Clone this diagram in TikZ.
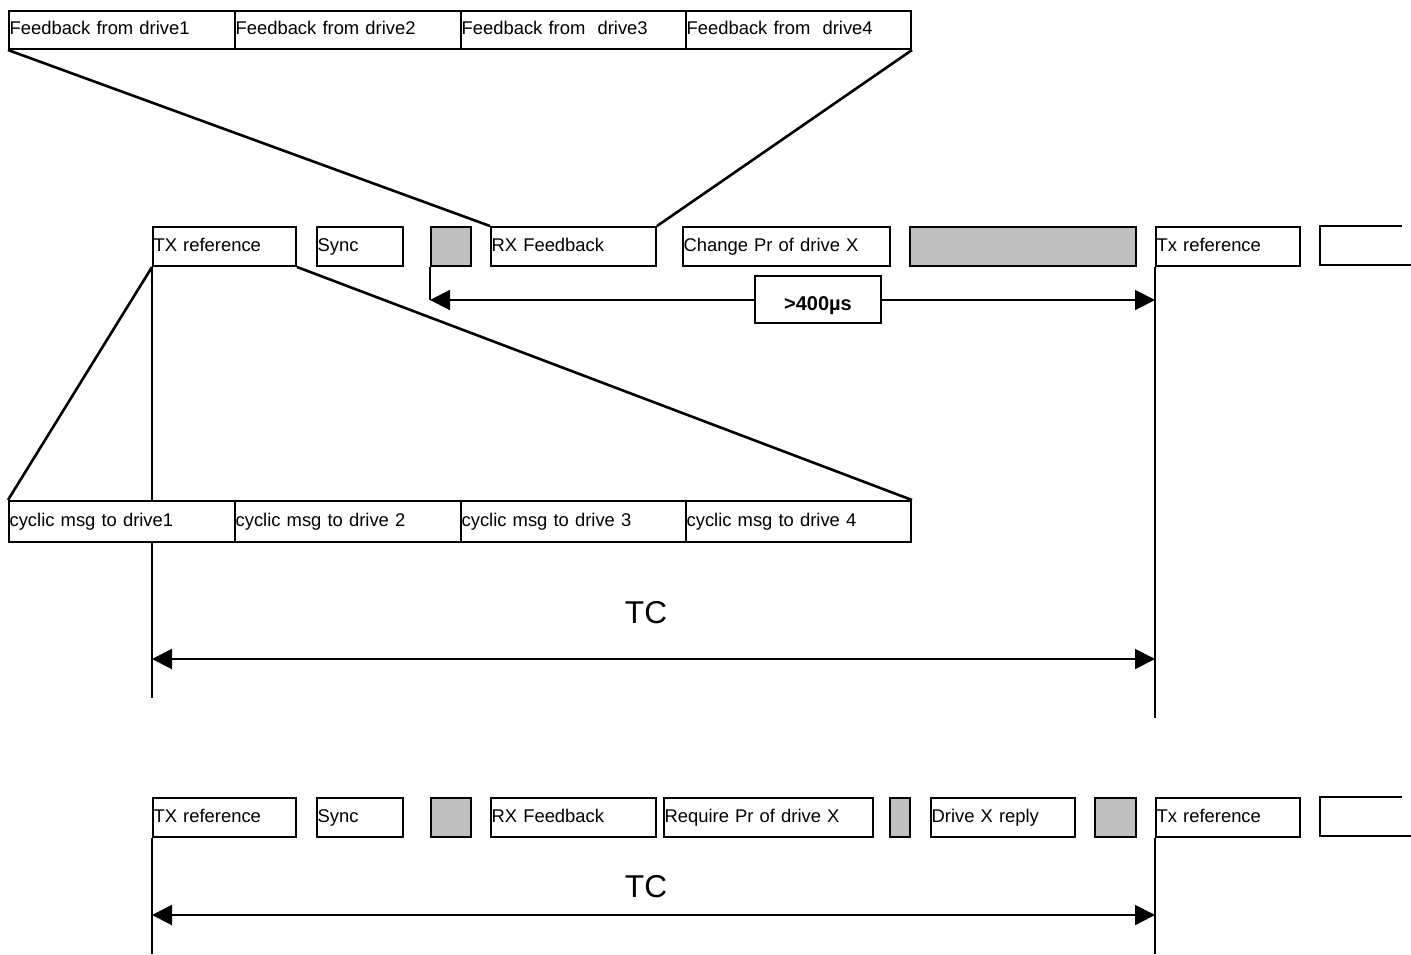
\documentclass[tikz,border=0pt]{standalone}
\usepackage{fontspec}
\setmainfont{Liberation Sans}
\usetikzlibrary{arrows.meta}
\definecolor{boxgrey}{HTML}{C0C0C0}
\newcommand\bx[6]{%
  \pgfmathsetmacro\bw{(#4-#2)*0.5}%
  \pgfmathsetmacro\bh{(#5-#3)*0.5}%
  \pgfmathsetmacro\tw{(#4-#2)*0.5-0.6}%
  \node[box, minimum width=\bw pt, minimum height=\bh pt, text width=\tw pt] (#1) at (#2,#3) {#6};}
\newcommand\gb[5]{%
  \pgfmathsetmacro\bw{(#4-#2)*0.5}%
  \pgfmathsetmacro\bh{(#5-#3)*0.5}%
  \node[gbox, minimum width=\bw pt, minimum height=\bh pt] (#1) at (#2,#3) {};}
\begin{document}
\begin{tikzpicture}[x=0.5pt,y=-0.5pt,
  box/.style={draw, line width=1pt, fill=white, anchor=north west, inner xsep=0.3pt, inner ysep=0pt, align=left, text height=6.5pt, text depth=2pt, font=\fontsize{9.2}{11}\selectfont},
  gbox/.style={draw, line width=1pt, fill=boxgrey, anchor=north west, inner sep=0pt},
  slant/.style={line width=1.3pt},
  vline/.style={line width=1pt},
  arr/.style={line width=1pt, {Triangle[length=10pt,width=10pt]}-{Triangle[length=10pt,width=10pt]}},
  tc/.style={font=\fontsize{15.8}{18}\selectfont, inner sep=0pt},
  lbl/.style={draw, line width=1pt, fill=white, minimum width=63pt, minimum height=23.5pt, inner sep=0pt, text height=10.5pt, text depth=0pt, font=\bfseries\fontsize{10}{12}\selectfont}
]
\useasboundingbox (0,0) rectangle (1411,954);

% top row
\bx{fb1}{8}{10}{234}{48}{Feedback from drive1}
\bx{fb2}{234}{10}{460}{48}{Feedback from drive2}
\bx{fb3}{460}{10}{685}{48}{Feedback from~ drive3}
\bx{fb4}{685}{10}{910}{48}{Feedback from~ drive4}

% middle row
\bx{txr}{152}{226}{295}{265}{TX reference}
\bx{sync}{316}{226}{402}{265}{Sync}
\gb{g1}{430}{226}{470}{265}
\bx{rxf}{490}{226}{655}{265}{RX Feedback}
\bx{chg}{682}{226}{889}{265}{Change Pr of drive X}
\gb{g2}{909}{226}{1135}{265}
\bx{txr2}{1155}{226}{1299}{265}{Tx reference}
\draw[line width=1pt] (1402,226) -- (1320,226) -- (1320,265) -- (1411,265);

\draw[slant] (fb1.south west) -- (rxf.north west);
\draw[slant] (fb4.south east) -- (rxf.north east);

% vertical time lines
\coordinate (v1end) at (152,698);
\coordinate (v2end) at (1155,718);
\draw[vline] (txr.south west) -- (v1end);
\draw[vline] (txr2.south west) -- (v2end);

% >400us arrow
\coordinate (a4l) at (430,300);
\coordinate (a4r) at (1155,300);
\draw[vline] (g1.south west) -- (a4l);
\draw[arr] (a4l) -- (a4r);
\node[lbl] (us) at (818,299.5) {>400µs};

% cyclic row
\bx{cy1}{8}{500}{234}{541}{cyclic msg to drive1}
\bx{cy2}{234}{500}{460}{541}{cyclic msg to drive 2}
\bx{cy3}{460}{500}{685}{541}{cyclic msg to drive 3}
\bx{cy4}{685}{500}{910}{541}{cyclic msg to drive 4}

\draw[slant] (txr.south west) -- (cy1.north west);
\draw[slant] (txr.south east) -- (cy4.north east);

% TC 1
\node[tc] (tc1) at (646,613) {TC};
\coordinate (t1l) at (152,659);
\coordinate (t1r) at (1155,659);
\draw[arr] (t1l) -- (t1r);

% bottom row
\bx{btxr}{152}{797}{295}{836}{TX reference}
\bx{bsync}{316}{797}{402}{836}{Sync}
\gb{bg1}{430}{797}{470}{836}
\bx{brxf}{490}{797}{655}{836}{RX Feedback}
\bx{breq}{663}{797}{872}{836}{Require Pr of drive X}
\gb{bg2}{889}{797}{909}{836}
\bx{brep}{930}{797}{1074}{836}{Drive X reply}
\gb{bg3}{1094}{797}{1135}{836}
\bx{btxr2}{1155}{797}{1299}{836}{Tx reference}
\draw[line width=1pt] (1402,797) -- (1320,797) -- (1320,836) -- (1411,836);

\coordinate (bv1end) at (152,954);
\coordinate (bv2end) at (1155,954);
\draw[vline] (btxr.south west) -- (bv1end);
\draw[vline] (btxr2.south west) -- (bv2end);

\node[tc] (tc2) at (646,887) {TC};
\coordinate (t2l) at (152,915);
\coordinate (t2r) at (1155,915);
\draw[arr] (t2l) -- (t2r);
\end{tikzpicture}
\end{document}
